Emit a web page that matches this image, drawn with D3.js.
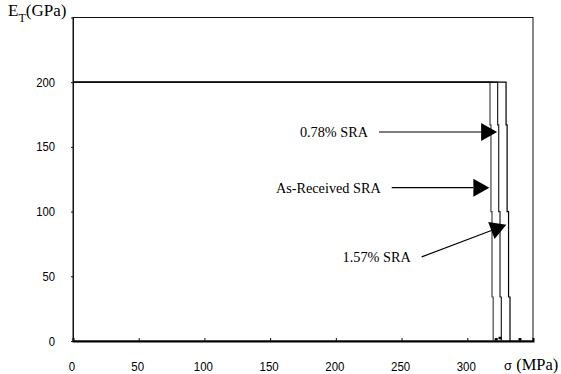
<!DOCTYPE html>
<html>
<head>
<meta charset="utf-8">
<script src="https://cdn.jsdelivr.net/npm/d3@7"></script>
<style>
  html, body { margin: 0; padding: 0; background: #fff; }
  svg { display: block; }
  .tick-label { font-family: "Liberation Sans", Arial, sans-serif; font-size: 12.5px; fill: #000; }
  .serif { font-family: "Liberation Serif", "Times New Roman", serif; fill: #000; }
</style>
</head>
<body>
<svg id="chart" width="561" height="374"></svg>
<script>
// Tangent modulus E_T versus stress σ for three SRA dosages
const xTicks = [0, 50, 100, 150, 200, 250, 300];
const yTicks = [0, 50, 100, 150, 200];

// As-Received SRA
const asReceivedSigma = [0, 317.3, 318.0, 318.8, 319.7, 319.7];
const asReceivedE     = [200, 200, 167, 100, 34, 0];
// 0.78% SRA
const sra078Sigma = [0, 323.1, 323.9, 324.9, 325.9, 325.9];
const sra078E     = [200, 200, 167, 100, 34, 0];
// 1.57% SRA
const sra157Sigma = [0, 329.5, 330.3, 331.4, 332.5, 332.5];
const sra157E     = [200, 200, 167, 100, 34, 0];

// small residual points on the σ axis
const baseSigma = [322.0, 324.9, 340.1];
const baseE     = [1.5, 2.5, 1.5];

// annotation arrows: label, tail (σ, E), head (σ, E)
const noteLabels    = ["0.78% SRA", "As-Received SRA", "1.57% SRA"];
const noteTailSigma = [232.8, 242.5, 265.3];
const noteTailE     = [161.5, 118.5, 65.0];
const noteHeadSigma = [322.7, 316.8, 329.7];
const noteHeadE     = [161.5, 118.5, 89.8];

const svg = d3.select("#chart");
const x = d3.scaleLinear().domain([0, 350]).range([73, 533]);
const y = d3.scaleLinear().domain([0, 250]).range([341, 17.5]);

// frame
svg.append("rect")
  .attr("x", x(0)).attr("y", y(250))
  .attr("width", x(350) - x(0)).attr("height", y(0) - y(250))
  .attr("fill", "none").attr("stroke", "#111").attr("stroke-width", 1);

// y axis
const yAxis = svg.append("g").attr("transform", `translate(${x(0)},0)`)
  .call(d3.axisLeft(y).tickValues(yTicks).tickSize(2).tickPadding(16));
yAxis.select(".domain").attr("stroke", "#111");
yAxis.selectAll("line").attr("stroke", "#111");
yAxis.selectAll("text").attr("class", "tick-label").attr("font-size", null).attr("font-family", null)
  .attr("transform", "scale(0.9,1)")
  .attr("x", -18 / 0.9);

// x axis (ticks point into the plot)
const xAxis = svg.append("g").attr("transform", `translate(0,${y(0)})`)
  .call(d3.axisBottom(x).tickValues(xTicks).tickSize(-3).tickPadding(0));
xAxis.select(".domain").attr("stroke", "#000").attr("stroke-width", 2);
xAxis.selectAll("line").attr("stroke", "#111");
xAxis.selectAll("text").attr("class", "tick-label").attr("font-size", null).attr("font-family", null)
  .style("font-size", "13.5px")
  .attr("dy", null).attr("y", 30.5)
  .attr("text-anchor", "middle")
  .attr("transform", "translate(-1.5,0) scale(0.85,1)");

// curves
const line = d3.line().x(d => x(d[0])).y(d => y(d[1])).curve(d3.curveStepBefore);
const series = [
  { s: asReceivedSigma, e: asReceivedE, color: "#444" },
  { s: sra078Sigma, e: sra078E, color: "#222" },
  { s: sra157Sigma, e: sra157E, color: "#000" }
];
series.forEach(sr => {
  svg.append("path")
    .datum(d3.zip(sr.s, sr.e))
    .attr("d", line)
    .attr("fill", "none")
    .attr("stroke", sr.color)
    .attr("stroke-width", 1.2);
});

// residual points
svg.selectAll("rect.base").data(d3.zip(baseSigma, baseE)).enter().append("rect")
  .attr("class", "base")
  .attr("x", d => x(d[0]) - 1.5).attr("y", d => y(d[1]) - 1)
  .attr("width", 3).attr("height", 2.5).attr("fill", "#000");

// annotations
noteLabels.forEach((lab, i) => {
  const x0 = x(noteTailSigma[i]), y0 = y(noteTailE[i]);
  const x1 = x(noteHeadSigma[i]), y1 = y(noteHeadE[i]);
  const ang = Math.atan2(y1 - y0, x1 - x0);
  const len = 16, half = 9;
  const bx = x1 - len * Math.cos(ang), by = y1 - len * Math.sin(ang);
  svg.append("line")
    .attr("x1", x0).attr("y1", y0).attr("x2", bx).attr("y2", by)
    .attr("stroke", "#000").attr("stroke-width", 1.2);
  const pts = [
    [x1, y1],
    [bx + half * Math.sin(ang), by - half * Math.cos(ang)],
    [bx - half * Math.sin(ang), by + half * Math.cos(ang)]
  ];
  svg.append("polygon").attr("points", pts.map(p => p.join(",")).join(" ")).attr("fill", "#000");
  svg.append("text").attr("class", "serif")
    .attr("transform", `translate(${x0 - 11},${y0 + 5}) scale(0.92,1)`)
    .attr("text-anchor", "end")
    .attr("font-size", 15.5)
    .text(lab);
});

// axis titles
const yt = svg.append("text").attr("class", "serif").attr("font-size", 17)
  .attr("transform", "translate(8,16)");
yt.append("tspan").text("E");
yt.append("tspan").attr("font-size", 12).attr("dy", 6).text("T");
yt.append("tspan").attr("dy", -6).text("(GPa)");

const xt = svg.append("text").attr("class", "serif").attr("font-size", 16.5)
  .attr("transform", "translate(504,370)");
xt.append("tspan").attr("font-family", "Liberation Sans, Arial, sans-serif").attr("font-size", 13).text("σ");
xt.append("tspan").text(" (MPa)");
</script>
</body>
</html>
